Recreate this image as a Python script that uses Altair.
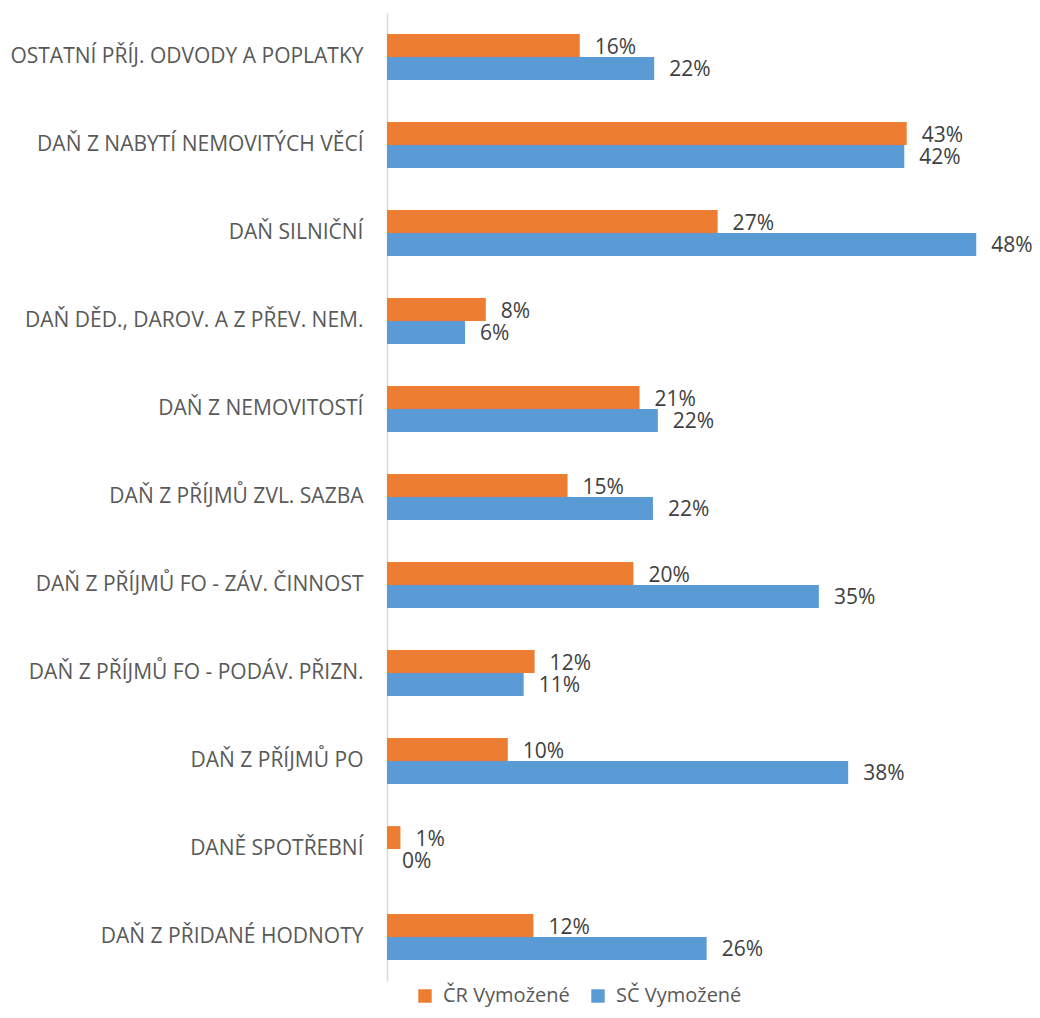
import altair as alt
import pandas as pd

categories = [
    "OSTATNÍ PŘÍJ. ODVODY A POPLATKY",
    "DAŇ Z NABYTÍ  NEMOVITÝCH  VĚCÍ",
    "DAŇ SILNIČNÍ",
    "DAŇ DĚD., DAROV. A Z PŘEV.  NEM.",
    "DAŇ Z NEMOVITOSTÍ",
    "DAŇ Z PŘÍJMŮ ZVL. SAZBA\u00a0",
    "DAŇ Z PŘÍJMŮ FO - ZÁV. ČINNOST",
    "DAŇ Z PŘÍJMŮ FO -  PODÁV. PŘIZN.",
    "DAŇ Z PŘÍJMŮ PO",
    "DANĚ SPOTŘEBNÍ",
    "DAŇ Z PŘIDANÉ HODNOTY",
]
series = ["ČR Vymožené", "SČ Vymožené"]
cr_values = [0.158, 0.426, 0.271, 0.081, 0.207, 0.148, 0.202, 0.121, 0.099, 0.011, 0.120]
sc_values = [0.219, 0.424, 0.483, 0.064, 0.222, 0.218, 0.354, 0.112, 0.378, 0.0, 0.262]
colors = ["#ED7D31", "#5B9BD5"]

rows = []
for c, a, b in zip(categories, cr_values, sc_values):
    rows.append({"cat": c, "series": series[0], "value": a})
    rows.append({"cat": c, "series": series[1], "value": b})
df = pd.DataFrame(rows)

FONT = "Open Sans"

y_enc = alt.Y(
    "cat:N",
    sort=categories,
    scale=alt.Scale(paddingInner=0.48, paddingOuter=0.24),
    axis=alt.Axis(
        title=None,
        ticks=False,
        domainColor="#d9d9d9",
        domainWidth=1.5,
        labelFontSize=21,
        labelColor="#595959",
        labelFont=FONT,
        labelPadding=24,
        labelLimit=400,
    ),
)
x_enc = alt.X("value:Q", scale=alt.Scale(domain=[0, 0.5], nice=False), axis=None)
yoff = alt.YOffset("series:N", sort=series, scale=alt.Scale(domain=series, paddingInner=0, paddingOuter=0))

bars = alt.Chart(df).mark_bar().encode(
    y=y_enc,
    x=x_enc,
    yOffset=yoff,
    color=alt.Color(
        "series:N",
        scale=alt.Scale(domain=series, range=colors),
        legend=alt.Legend(
            title=None,
            orient="none",
            legendX=28,
            legendY=973,
            direction="horizontal",
            symbolType="square",
            symbolSize=180,
            symbolStrokeWidth=0,
            labelFontSize=20,
            labelColor="#595959",
            labelFont=FONT,
            labelOffset=8,
            columnPadding=18,
        ),
    ),
)

labels = alt.Chart(df).mark_text(
    align="left", baseline="middle", dx=15, dy=2, fontSize=21, color="#404040", font=FONT
).encode(
    y=alt.Y("cat:N", sort=categories),
    x="value:Q",
    yOffset=yoff,
    text=alt.Text("value:Q", format=".0%"),
)

chart = (
    alt.layer(bars, labels)
    .properties(
        width=610,
        height=968,
        autosize=alt.AutoSizeParams(type="none"),
        padding={"left": 379, "top": 5, "right": 35, "bottom": 29},
    )
    .configure_view(stroke=None)
)

chart.save("out.html", embed_options={"renderer": "svg", "actions": False})
